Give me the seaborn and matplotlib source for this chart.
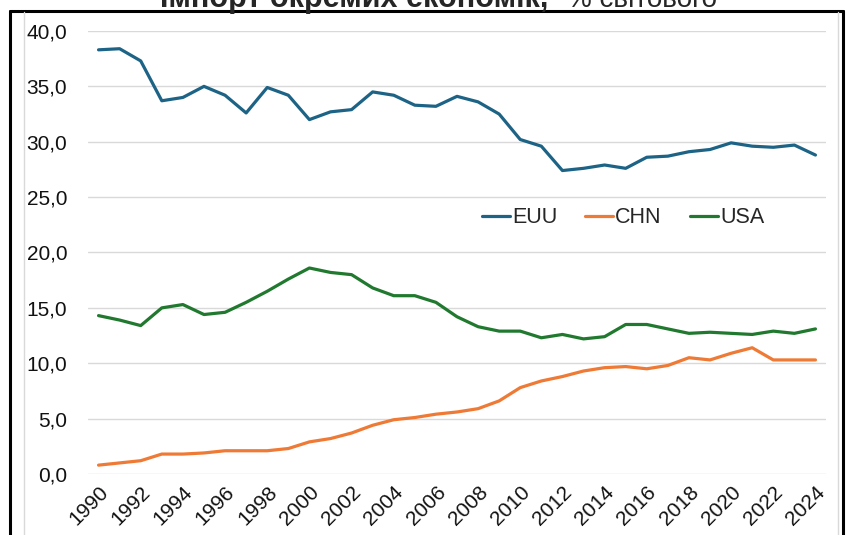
import pandas as pd
import seaborn as sns
import matplotlib.pyplot as plt
from matplotlib.ticker import FuncFormatter, MultipleLocator
from matplotlib.lines import Line2D

years = list(range(1990, 2025))

euu = [38.3, 38.4, 37.3, 33.7, 34.0, 35.0, 34.2, 32.6, 34.9, 34.2,
       32.0, 32.7, 32.9, 34.5, 34.2, 33.3, 33.2, 34.1, 33.6, 32.5,
       30.2, 29.6, 27.4, 27.6, 27.9, 27.6, 28.6, 28.7, 29.1, 29.3,
       29.9, 29.6, 29.5, 29.7, 28.8]
chn = [0.8, 1.0, 1.2, 1.8, 1.8, 1.9, 2.1, 2.1, 2.1, 2.3,
       2.9, 3.2, 3.7, 4.4, 4.9, 5.1, 5.4, 5.6, 5.9, 6.6,
       7.8, 8.4, 8.8, 9.3, 9.6, 9.7, 9.5, 9.8, 10.5, 10.3,
       10.9, 11.4, 10.3, 10.3, 10.3]
usa = [14.3, 13.9, 13.4, 15.0, 15.3, 14.4, 14.6, 15.5, 16.5, 17.6,
       18.6, 18.2, 18.0, 16.8, 16.1, 16.1, 15.5, 14.2, 13.3, 12.9,
       12.9, 12.3, 12.6, 12.2, 12.4, 13.5, 13.5, 13.1, 12.7, 12.8,
       12.7, 12.6, 12.9, 12.7, 13.1]

series_names = ['EUU', 'CHN', 'USA']
colors = {'EUU': '#1d6386', 'CHN': '#ee7a35', 'USA': '#20792e'}

df = pd.DataFrame({'year': years * 3,
                   'value': euu + chn + usa,
                   'series': sum([[s] * len(years) for s in series_names], [])})

sns.set_theme(style='white')
plt.rcParams['font.family'] = ['Liberation Sans', 'DejaVu Sans']

fig = plt.figure(figsize=(8.47, 5.35), dpi=100)
ax = fig.add_axes([88 / 847, 61 / 535, 738 / 847, 443 / 535])

sns.lineplot(data=df, x='year', y='value', hue='series', palette=colors,
             hue_order=series_names, linewidth=2.3, ax=ax)

ax.set_xlim(1989.5, 2024.5)
ax.set_ylim(0, 40)
ax.yaxis.set_major_locator(MultipleLocator(5))
ax.yaxis.set_major_formatter(FuncFormatter(lambda v, p: f'{v:.1f}'.replace('.', ',')))
ax.set_xticks(years[::2])
ax.grid(axis='y', color='#d9d9d9', linewidth=1)
ax.set_axisbelow(True)
for sp in ax.spines.values():
    sp.set_visible(False)
ax.set_xlabel('')
ax.set_ylabel('')
ax.tick_params(axis='y', labelsize=15, pad=15, length=0, colors='#111111')
ax.tick_params(axis='x', labelsize=15, pad=6, length=0, colors='#111111')
for lab in ax.get_xticklabels():
    lab.set_rotation(45)
    lab.set_ha('right')
    lab.set_va('top')
    lab.set_rotation_mode('anchor')

ax.legend(loc='center', bbox_to_anchor=(0.725, 0.578), ncol=3, frameon=False,
          fontsize=15.5, handlelength=1.3, handletextpad=0.1, columnspacing=1.3)

# title, cut off by the top edge
fig.text(548 / 847, 1 - 7 / 535, 'Імпорт окремих економік,', ha='right', va='baseline',
         fontsize=22, fontweight='bold')
fig.text(567 / 847, 1 - 7 / 535, '% світового', ha='left', va='baseline', fontsize=20)

# outer frame
fig.add_artist(Line2D([10 / 847, 10 / 847], [0, 1 - 11 / 535], color='black', lw=2.2,
                      transform=fig.transFigure))
fig.add_artist(Line2D([10 / 847, 843 / 847], [1 - 11 / 535, 1 - 11 / 535], color='black',
                      lw=2.2, transform=fig.transFigure))
fig.add_artist(Line2D([843 / 847, 843 / 847], [0, 1 - 11 / 535], color='black', lw=2.2,
                      transform=fig.transFigure))
fig.add_artist(Line2D([24 / 847, 24 / 847], [0, 1 - 12 / 535], color='#d9d9d9', lw=1,
                      transform=fig.transFigure))
fig.add_artist(Line2D([838 / 847, 838 / 847], [0, 1 - 12 / 535], color='#d9d9d9', lw=1,
                      transform=fig.transFigure))

fig.savefig('out.png', dpi=100)
